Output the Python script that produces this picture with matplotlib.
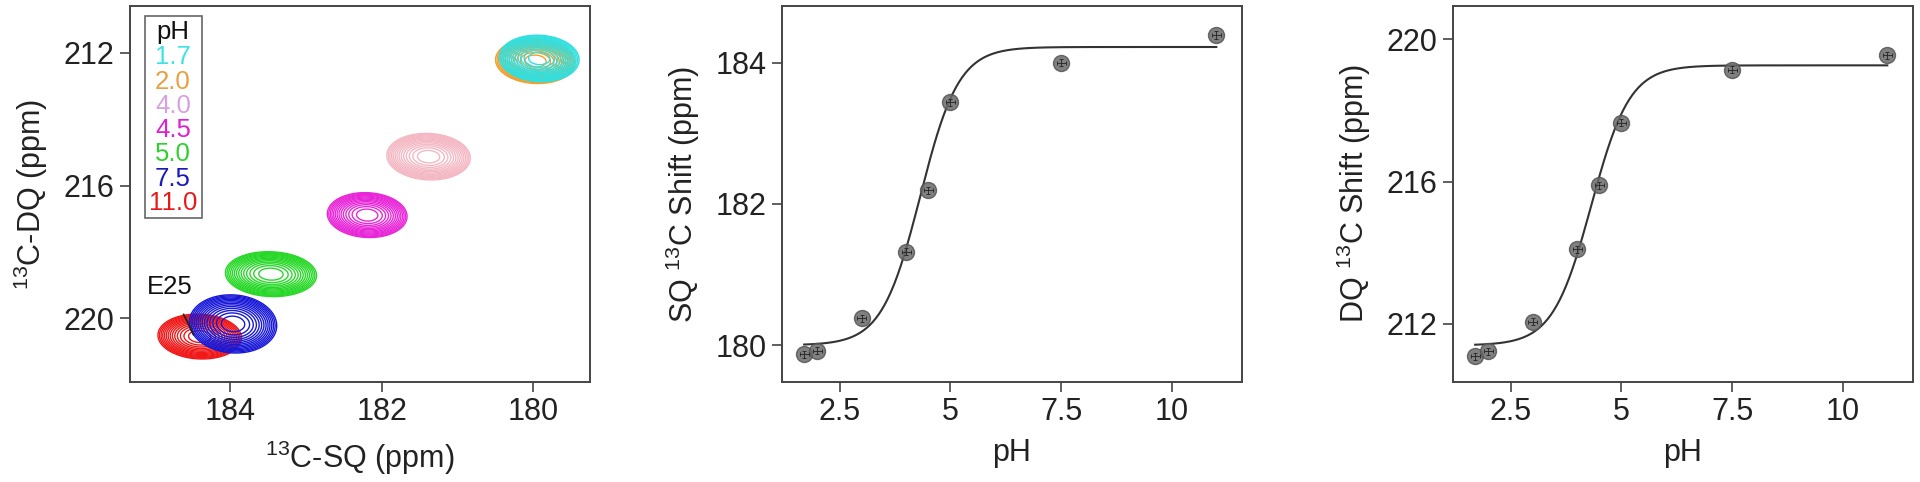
import numpy as np
import matplotlib
matplotlib.use("Agg")
import matplotlib.pyplot as plt
from matplotlib.patches import Rectangle

plt.rcParams['font.family'] = ['Liberation Sans', 'DejaVu Sans']
plt.rcParams['mathtext.fontset'] = 'custom'
plt.rcParams['mathtext.rm'] = 'Liberation Sans'
plt.rcParams['mathtext.default'] = 'regular'

# ---------------- data ----------------
ph_labels = ['1.7', '2.0', '4.0', '4.5', '5.0', '7.5', '11.0']
legend_colors = ['#3fe3e3', '#e8a040', '#d9a0e0', '#e020d0', '#30d030', '#1a1ab8', '#e81818']
contour_colors = ['#30e0e0', '#f0a030', '#f4b8c4', '#e828d8', '#28d828', '#1818d8', '#f01818']
peak_sq = [179.92, 179.97, 181.38, 182.19, 183.46, 183.96, 184.40]
peak_dq = [212.17, 212.25, 215.13, 216.89, 218.67, 220.17, 220.55]
peak_wsq = [0.21, 0.21, 0.22, 0.21, 0.24, 0.23, 0.22]
peak_wdq = [0.28, 0.27, 0.28, 0.27, 0.27, 0.35, 0.27]

ph = [1.7, 2.0, 3.0, 4.0, 4.5, 5.0, 7.5, 11.0]
sq_shift = [179.87, 179.92, 180.38, 181.32, 182.19, 183.44, 184.00, 184.39]
dq_shift = [211.08, 211.22, 212.05, 214.10, 215.89, 217.66, 219.15, 219.55]
ph_err = [0.10] * 8
sq_err = [0.05] * 8
dq_err = [0.10] * 8

# Henderson-Hasselbalch fit parameters (low, high, pKa)
sq_fit = (180.00, 184.22, 4.32)
dq_fit = (211.39, 219.27, 4.32)

# ---------------- figure ----------------
W, H = 1920, 482
fig = plt.figure(figsize=(W / 100, H / 100), dpi=100)

def px_axes(l, t, r, b):
    return fig.add_axes([l / W, 1 - b / H, (r - l) / W, (b - t) / H])

ax1 = px_axes(130, 6, 590, 382)
ax2 = px_axes(782, 6, 1242, 382)
ax3 = px_axes(1453, 6, 1913, 382)

spine_col = '#444444'
for ax in (ax1, ax2, ax3):
    for s in ax.spines.values():
        s.set_color(spine_col)
        s.set_linewidth(1.4)
    ax.tick_params(direction='out', length=7, width=1.2, color=spine_col,
                   labelsize=22, labelcolor='#222222', pad=4)

# ---- panel 1: contours ----
levels = [1.25 ** (-k) for k in range(14, 0, -1)]
draw_order = [1, 0, 2, 3, 4, 6, 5]
for i in draw_order:
    cx, cy = peak_sq[i], peak_dq[i]
    sx, sy = peak_wsq[i], peak_wdq[i]
    x = np.linspace(cx - 4 * sx, cx + 4 * sx, 200)
    y = np.linspace(cy - 4 * sy, cy + 4 * sy, 200)
    X, Y = np.meshgrid(x, y)
    u = (X - cx) / sx
    v = (Y - cy) / sy
    Z = np.exp(-0.5 * (u ** 2 + v ** 2 + 0.12 * u * v))
    ax1.contour(X, Y, Z, levels=levels, colors=contour_colors[i], linewidths=1.0)

ax1.set_xlim(185.32, 179.25)
ax1.set_ylim(221.92, 210.59)
ax1.set_xticks([184, 182, 180])
ax1.set_yticks([212, 216, 220])
ax1.set_xlabel(r'$^{13}$C-SQ (ppm)', fontsize=22, color='#222222', labelpad=8)
ax1.set_ylabel(r'$^{13}$C-DQ (ppm)', fontsize=22, color='#222222', labelpad=10)

# legend box
ax1.add_patch(Rectangle(((145 - 130) / 460, (382 - 218) / 376), (202 - 145) / 460,
                        (218 - 16) / 376, transform=ax1.transAxes, fill=False,
                        edgecolor='#666666', linewidth=1.2, zorder=5))
line_y = [57, 82, 106, 130, 154, 179, 203]
ax1.text((173 - 130) / 460, (382 - 32) / 376, 'pH', transform=ax1.transAxes,
         ha='center', va='center', fontsize=18.5, color='#111111')
for lab, col, yy in zip(ph_labels, legend_colors, line_y):
    ax1.text((173 - 130) / 460, (382 - yy) / 376, lab, transform=ax1.transAxes,
             ha='center', va='center', fontsize=18.5, color=col)

ax1.annotate('E25', xy=(184.48, 220.5), xytext=(184.79, 219.06),
             fontsize=18.5, color='#111111', ha='center', va='center',
             arrowprops=dict(arrowstyle='-', color='#222222', lw=1.3,
                             shrinkA=10, shrinkB=0))

# ---- panels 2 & 3 ----
def titration(ax, yv, yerr, fit, ylim, yticks, ylabel):
    lo, hi, pka = fit
    xx = np.linspace(ph[0], ph[-1], 400)
    ax.plot(xx, lo + (hi - lo) / (1 + 10 ** (pka - xx)), color='#333333', lw=1.5, zorder=2)
    ax.plot(ph, yv, 'o', ms=11.5, color='#6a6a6a', mec='#555555', alpha=0.85, zorder=3)
    ax.errorbar(ph, yv, xerr=ph_err, yerr=yerr, fmt='none', ecolor='#222222',
                elinewidth=0.6, capsize=1.5, capthick=0.6, zorder=4)
    ax.set_xlim(1.2, 11.58)
    ax.set_ylim(*ylim)
    ax.set_xticks([2.5, 5, 7.5, 10])
    ax.set_xticklabels(['2.5', '5', '7.5', '10'])
    ax.set_yticks(yticks)
    ax.set_xlabel('pH', fontsize=22, color='#222222', labelpad=8)
    ax.set_ylabel(ylabel, fontsize=22, color='#222222', labelpad=10)

titration(ax2, sq_shift, sq_err, sq_fit, (179.48, 184.80), [180, 182, 184],
          r'SQ $^{13}$C Shift (ppm)')
titration(ax3, dq_shift, dq_err, dq_fit, (210.36, 220.94), [212, 216, 220],
          r'DQ $^{13}$C Shift (ppm)')

fig.savefig('out.png', dpi=100, facecolor='white')
